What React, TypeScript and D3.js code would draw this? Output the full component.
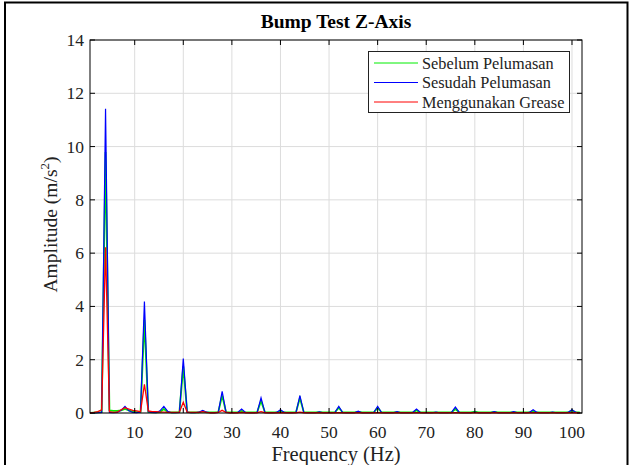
import React from "react";
import * as d3 from "d3";

// Frequency bins (Hz), 0.8 Hz resolution
const FREQ: number[] = d3.range(1, 128).map((k) => +(k * 0.8).toFixed(2));

const SEBELUM: number[] = [
  0, 0.01, 0.02, 0.03, 9.8, 0.1, 0.08, 0.08, 0.1, 0.15,
  0.1, 0.05, 0.03, 0.04, 3.5, 0.04, 0.02, 0.02, 0.03, 0.15,
  0.03, 0.02, 0.02, 0.03, 1.75, 0.03, 0.02, 0.02, 0.02, 0.06,
  0.02, 0.02, 0.02, 0.03, 0.66, 0.03, 0.02, 0.02, 0.02, 0.08,
  0.02, 0.02, 0.02, 0.03, 0.45, 0.03, 0.02, 0.02, 0.02, 0.06,
  0.02, 0.02, 0.02, 0.03, 0.56, 0.03, 0.02, 0.02, 0.02, 0.03,
  0.02, 0.02, 0.02, 0.02, 0.2, 0.02, 0.02, 0.02, 0.02, 0.04,
  0.02, 0.02, 0.02, 0.02, 0.2, 0.02, 0.02, 0.02, 0.02, 0.03,
  0.02, 0.02, 0.02, 0.02, 0.1, 0.02, 0.02, 0.02, 0.02, 0.02,
  0.02, 0.02, 0.02, 0.02, 0.15, 0.02, 0.02, 0.02, 0.02, 0.05,
  0.02, 0.02, 0.02, 0.02, 0.04, 0.02, 0.02, 0.02, 0.02, 0.03,
  0.02, 0.02, 0.02, 0.02, 0.08, 0.02, 0.02, 0.02, 0.02, 0.02,
  0.02, 0.02, 0.02, 0.02, 0.1, 0.02, 0.02,
];

const SESUDAH: number[] = [
  0, 0, 0.01, 0.02, 11.42, 0.02, 0.01, 0.02, 0.1, 0.25,
  0.08, 0.02, 0.01, 0.04, 4.18, 0.05, 0.02, 0.01, 0.08, 0.25,
  0.06, 0.01, 0.01, 0.02, 2.04, 0.03, 0.01, 0.01, 0.03, 0.1,
  0.03, 0.01, 0.01, 0.02, 0.81, 0.02, 0.01, 0.01, 0.02, 0.15,
  0.02, 0.01, 0.01, 0.02, 0.57, 0.02, 0.01, 0.01, 0.02, 0.12,
  0.02, 0.01, 0.01, 0.02, 0.65, 0.02, 0.01, 0.01, 0.01, 0.04,
  0.01, 0.01, 0.01, 0.02, 0.25, 0.02, 0.01, 0.01, 0.01, 0.07,
  0.01, 0.01, 0.01, 0.02, 0.25, 0.02, 0.01, 0.01, 0.01, 0.05,
  0.01, 0.01, 0.01, 0.02, 0.15, 0.02, 0.01, 0.01, 0.01, 0.03,
  0.01, 0.01, 0.01, 0.02, 0.22, 0.02, 0.01, 0.01, 0.01, 0.03,
  0.01, 0.01, 0.01, 0.01, 0.05, 0.01, 0.01, 0.01, 0.01, 0.05,
  0.01, 0.01, 0.01, 0.02, 0.12, 0.02, 0.01, 0.01, 0.01, 0.03,
  0.01, 0.01, 0.01, 0.02, 0.12, 0.02, 0.01,
];

const GREASE: number[] = [
  0, 0.02, 0.05, 0.12, 6.22, 0.05, 0.02, 0.03, 0.12, 0.2,
  0.15, 0.1, 0.08, 0.05, 1.08, 0.08, 0.05, 0.05, 0.03, 0.03,
  0.02, 0.02, 0.02, 0.03, 0.4, 0.03, 0.02, 0.02, 0.02, 0.05,
  0.02, 0.01, 0.01, 0.02, 0.1, 0.02, 0.01, 0.01, 0.01, 0.02,
  0.01, 0.01, 0.01, 0.01, 0.05, 0.01, 0.01, 0.01, 0.01, 0.01,
  0.01, 0.01, 0.01, 0.01, 0.03, 0.01, 0.01, 0.01, 0.01, 0.01,
  0.01, 0.01, 0.01, 0.01, 0.01, 0.01, 0.01, 0.01, 0.01, 0.01,
  0.01, 0.01, 0.01, 0.01, 0.01, 0.01, 0.01, 0.01, 0.01, 0.01,
  0.01, 0.01, 0.01, 0.01, 0.01, 0.01, 0.01, 0.01, 0.01, 0.01,
  0.01, 0.01, 0.01, 0.01, 0.01, 0.01, 0.01, 0.01, 0.01, 0.01,
  0.01, 0.01, 0.01, 0.01, 0.01, 0.01, 0.01, 0.01, 0.01, 0.01,
  0.01, 0.01, 0.01, 0.01, 0.01, 0.01, 0.01, 0.01, 0.01, 0.01,
  0.01, 0.01, 0.01, 0.01, 0.01, 0.01, 0.01,
];

const SERIES_NAMES = ["Sebelum Pelumasan", "Sesudah Pelumasan", "Menggunakan Grease"];
const SERIES_COLORS = ["#00ee00", "#0000ff", "#ff0000"];
const SERIES_WIDTHS = [1.8, 1.2, 1.3];
const DRAW_ORDER = [0, 1, 2];
const X_TICKS = [10, 20, 30, 40, 50, 60, 70, 80, 90, 100];
const Y_TICKS = [0, 2, 4, 6, 8, 10, 12, 14];

const W = 638;
const H = 465;
const M = { left: 90, right: 582, top: 40, bottom: 413 };
const FONT = "'Liberation Serif', 'Times New Roman', serif";

export default function App() {
  const x = d3.scaleLinear().domain([0.8, 102.06]).range([M.left, M.right]);
  const y = d3.scaleLinear().domain([0, 14]).range([M.bottom, M.top]);
  const line = d3
    .line<number>()
    .x((_, i) => x(FREQ[i]))
    .y((d) => y(d));
  const series = [SEBELUM, SESUDAH, GREASE];

  return (
    <svg
      width={W}
      height={H}
      style={{ position: "absolute", left: 0, top: 0, background: "#fff" }}
      fontFamily={FONT}
    >
      <rect x={0} y={0} width={W} height={H} fill="#fff" />
      {/* outer frame */}
      <path d={`M5,${H + 5} V2.5 H627.5 V${H + 5}`} fill="none" stroke="#000" strokeWidth={2} />
      {/* grid */}
      <g stroke="#dcdcdc" strokeWidth={1}>
        {X_TICKS.map((t) => (
          <line key={"gx" + t} x1={x(t)} x2={x(t)} y1={M.top} y2={M.bottom} />
        ))}
        {Y_TICKS.map((t) => (
          <line key={"gy" + t} x1={M.left} x2={M.right} y1={y(t)} y2={y(t)} />
        ))}
      </g>
      <defs>
        <clipPath id="plotclip">
          <rect x={M.left} y={M.top} width={M.right - M.left} height={M.bottom - M.top + 1} />
        </clipPath>
      </defs>
      <g clipPath="url(#plotclip)" fill="none" strokeLinejoin="miter">
        {DRAW_ORDER.map((k) => (
          <path
            key={k}
            d={line(series[k]) || ""}
            stroke={SERIES_COLORS[k]}
            strokeWidth={SERIES_WIDTHS[k]}
          />
        ))}
      </g>
      {/* axes box */}
      <rect
        x={M.left}
        y={M.top}
        width={M.right - M.left}
        height={M.bottom - M.top}
        fill="none"
        stroke="#000"
        strokeWidth={1}
      />
      {/* ticks */}
      <g stroke="#000" strokeWidth={1}>
        {X_TICKS.map((t) => (
          <g key={"tx" + t}>
            <line x1={x(t)} x2={x(t)} y1={M.bottom} y2={M.bottom - 5} />
            <line x1={x(t)} x2={x(t)} y1={M.top} y2={M.top + 5} />
          </g>
        ))}
        {Y_TICKS.map((t) => (
          <g key={"ty" + t}>
            <line x1={M.left} x2={M.left + 5} y1={y(t)} y2={y(t)} />
            <line x1={M.right} x2={M.right - 5} y1={y(t)} y2={y(t)} />
          </g>
        ))}
      </g>
      <g fontSize={17.5} fill="#222">
        {X_TICKS.map((t) => (
          <text key={"lx" + t} x={x(t)} y={M.bottom + 25} textAnchor="middle">
            {t}
          </text>
        ))}
        {Y_TICKS.map((t) => (
          <text key={"ly" + t} x={M.left - 6} y={y(t) + 6} textAnchor="end">
            {t}
          </text>
        ))}
      </g>
      <text x={336} y={28} textAnchor="middle" fontSize={19.5} fontWeight="bold" fill="#000">
        Bump Test Z-Axis
      </text>
      <text x={336} y={461} textAnchor="middle" fontSize={20.5} fill="#222">
        Frequency (Hz)
      </text>
      <text
        transform={`translate(57, ${(M.top + M.bottom) / 2 - 2}) rotate(-90)`}
        textAnchor="middle"
        fontSize={19.5}
        fill="#222"
      >
        Amplitude (m/s
        <tspan dy={-8} fontSize={13}>
          2
        </tspan>
        <tspan dy={8}>)</tspan>
      </text>
      {/* legend */}
      <g>
        <rect x={368.5} y={51.5} width={201} height={61} fill="#fff" stroke="#222" strokeWidth={1} />
        {SERIES_NAMES.map((n, k) => (
          <g key={n}>
            <line
              x1={374}
              x2={418}
              y1={63 + k * 19.5}
              y2={63 + k * 19.5}
              stroke={SERIES_COLORS[k]}
              strokeWidth={1}
            />
            <text x={422} y={68.5 + k * 19.5} fontSize={16.3} fill="#222">
              {n}
            </text>
          </g>
        ))}
      </g>
    </svg>
  );
}
